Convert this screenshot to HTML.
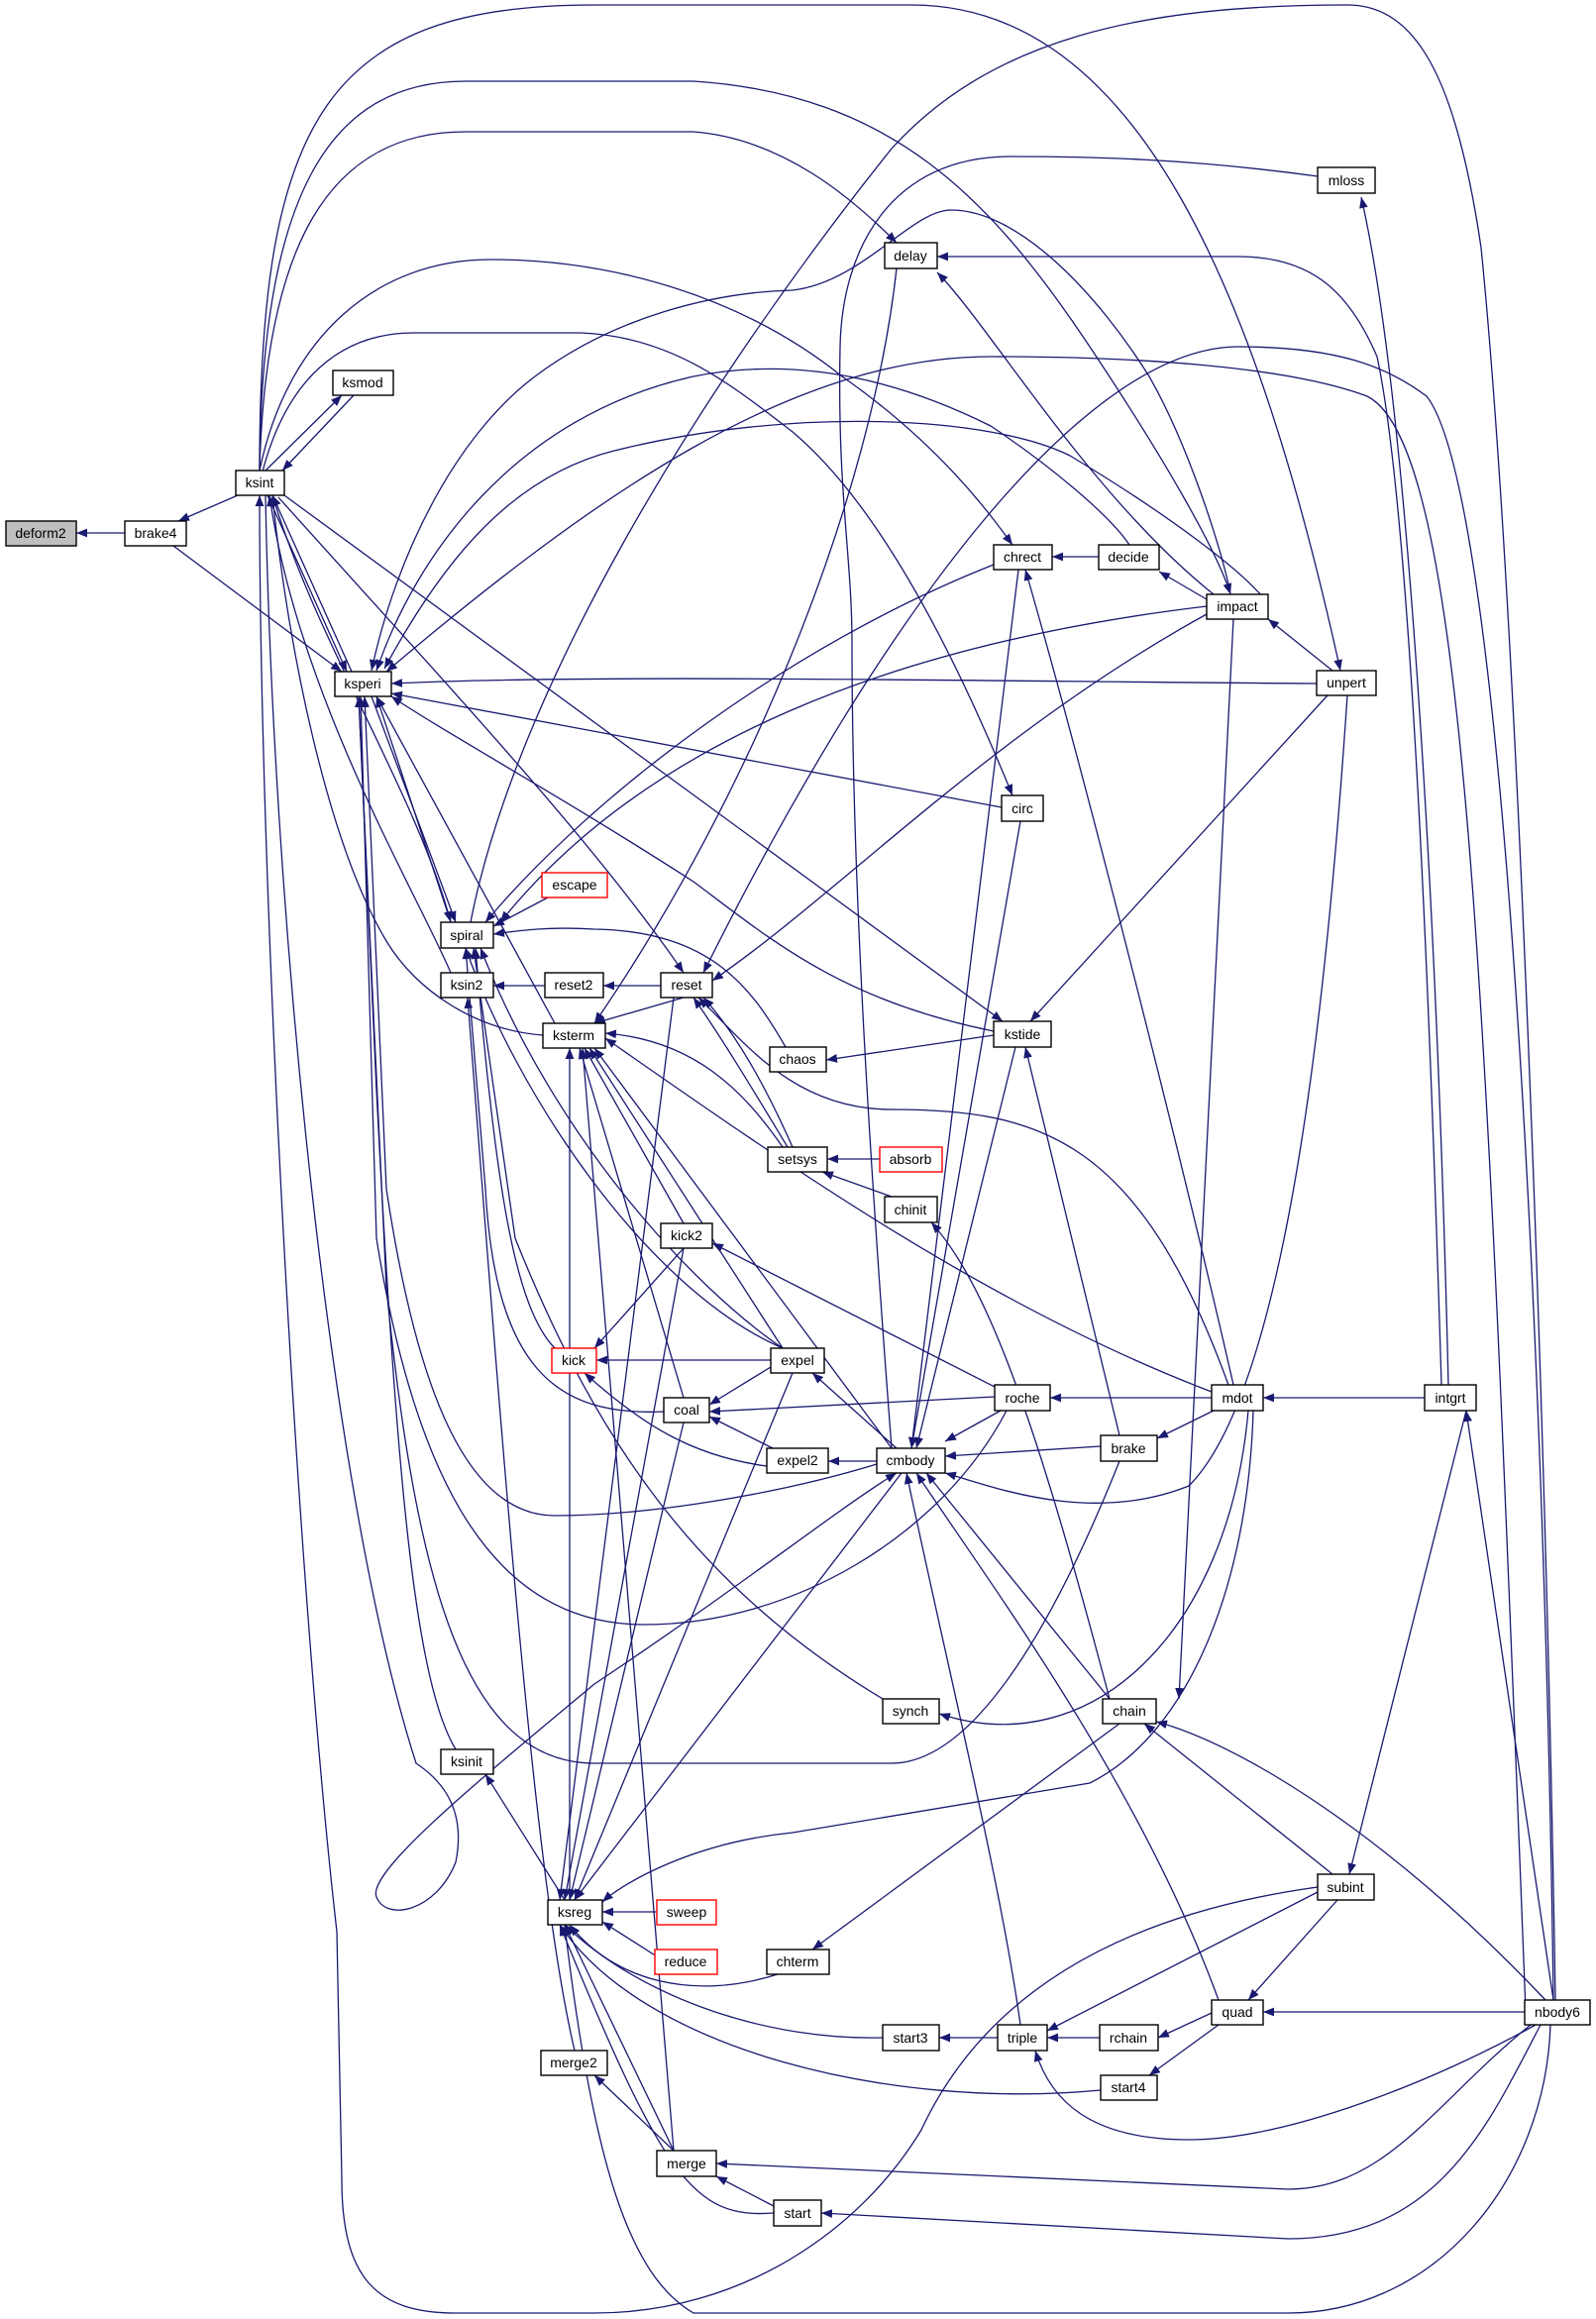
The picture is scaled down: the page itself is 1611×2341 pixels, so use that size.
<!DOCTYPE html>
<html><head><meta charset="utf-8">
<style>
html,body{margin:0;padding:0;background:#fff;}
svg{display:block;}
text{font-family:"Liberation Sans",sans-serif;font-size:14px;fill:#000;text-anchor:middle;dominant-baseline:central;}
.e path{fill:none;stroke:#191970;stroke-width:1.3;}
.e path.a{marker-end:url(#ah);}
.e path.s{marker-start:url(#ah);}
rect{fill:#fff;stroke:#000;stroke-width:1.4;}
rect.r{stroke:#ff0000;}
rect.g{fill:#bfbfbf;}
</style></head><body>
<svg width="1611" height="2341" viewBox="0 0 1611 2341" xmlns="http://www.w3.org/2000/svg">
<defs><marker id="ah" viewBox="0 0 10 8" refX="10" refY="4" markerWidth="11" markerHeight="9" orient="auto-start-reverse" markerUnits="userSpaceOnUse"><path d="M0,0 L10,4 L0,8z" fill="#191970"/></marker></defs>
<g class="e">
<path class="a" d="M126,538 L77,538"/>
<path class="a" d="M240,500 L180,526"/>
<path class="a" d="M175,551 L345,678"/>
<path class="a" d="M268,475 L345,399"/>
<path class="a" d="M357,399 L285,475"/>
<path class="a" d="M262,475 C262,120 330,5 600,5 L920,5 C1150,5 1270,300 1353,677"/>
<path d="M475,931 C520,700 700,400 900,150 C1000,40 1150,5 1360,5 C1430,5 1470,80 1495,250 C1530,600 1560,1400 1570,2019"/>
<path class="a" d="M262,475 C264,200 330,82 470,82 L700,82 C900,95 1000,200 1100,350 C1180,470 1230,560 1242,600"/>
<path class="a" d="M262,475 C268,250 330,133 470,133 L700,133 C790,140 860,200 905,245"/>
<path class="a" d="M262,475 C290,340 380,262 495,262 C620,262 750,300 850,380 C950,450 1000,520 1022,550"/>
<path class="a" d="M265,476 C285,400 330,336 418,336 L587,336 C680,340 740,390 800,436 C900,520 980,700 1022,803"/>
<path class="a" d="M287,500 L1012,1031"/>
<path class="a" d="M281,502 C450,690 600,850 690,982"/>
<path class="a" d="M270,500 L350,678"/>
<path class="a" d="M355,678 L275,500"/>
<path class="s" d="M262,500 C262,900 300,1600 340,1950 L345,2200 C345,2300 380,2335 460,2335 L600,2335 C750,2335 870,2250 930,2150 C1000,2000 1150,1930 1330,1905"/>
<path class="a" d="M268,500 C275,900 330,1500 420,1780 C450,1800 470,1830 460,1880 C440,1930 390,1940 380,1915 C370,1890 480,1800 600,1700 C750,1600 850,1520 905,1487"/>
<path class="a" d="M275,500 C320,650 420,800 455,931"/>
<path class="a" d="M455,982 C420,900 300,700 272,500"/>
<path class="a" d="M548,1045 C480,1040 420,1000 390,950 C330,850 290,650 275,500"/>
<path class="a" d="M1329,690 C1000,688 600,680 395,690"/>
<path class="a" d="M1011,815 L395,700"/>
<path class="a" d="M1003,1041 C850,1010 780,950 700,890 C560,800 450,740 395,703"/>
<path class="s" d="M375,677 C400,560 460,440 540,380 C620,320 720,295 800,293 C870,285 920,212 960,212 C1030,212 1110,300 1160,380 C1200,450 1235,560 1242,600"/>
<path class="s" d="M380,677 C420,560 520,420 700,380 C800,360 900,380 1000,430 C1060,470 1120,520 1140,550"/>
<path class="s" d="M388,675 C450,560 520,480 620,455 C800,410 1000,420 1080,460 C1180,520 1260,580 1280,610"/>
<path class="a" d="M553,906 L498,935"/>
<path class="a" d="M793,1057 C760,1000 720,940 600,938 C550,935 520,940 498,943"/>
<path class="a" d="M1218,612 C900,650 650,750 505,931"/>
<path class="a" d="M1003,570 C800,650 600,800 490,931"/>
<path class="a" d="M905,271 C880,500 760,800 600,1033"/>
<path class="a" d="M455,931 L380,703"/>
<path class="a" d="M375,703 L460,931"/>
<path class="s" d="M470,957 C520,1100 650,1300 790,1361"/>
<path class="a" d="M790,1361 C700,1300 560,1150 485,957"/>
<path class="a" d="M560,1361 C520,1320 500,1200 480,957"/>
<path class="a" d="M670,1425 C560,1430 500,1380 490,1200 L470,957"/>
<path class="a" d="M891,1715 C700,1600 600,1450 520,1250 L478,957"/>
<path class="a" d="M885,1478 C780,1510 650,1530 560,1530 C470,1530 420,1400 390,1200 L368,703"/>
<path class="a" d="M1016,1424 C950,1550 800,1640 650,1640 C500,1640 420,1500 380,1250 L364,703"/>
<path class="a" d="M1130,1475 C1060,1650 980,1780 900,1780 L600,1780 C470,1780 420,1600 390,1300 L362,703"/>
<path class="a" d="M460,1766 C420,1700 400,1500 380,1100 L362,703"/>
<path class="a" d="M560,1033 L380,703"/>
<path class="a" d="M690,1007 L600,1033"/>
<path class="a" d="M690,1235 L590,1058"/>
<path class="a" d="M790,1361 L595,1058"/>
<path class="a" d="M690,1411 L585,1058"/>
<path class="a" d="M900,1462 L600,1058"/>
<path class="a" d="M1223,1405 C1000,1320 800,1180 611,1048"/>
<path class="a" d="M790,1158 C750,1100 700,1050 611,1043"/>
<path class="a" d="M575,1918 L575,1058"/>
<path class="a" d="M680,2171 L588,1058"/>
<path class="a" d="M667,995 L609,995"/>
<path class="a" d="M550,995 L498,995"/>
<path class="a" d="M1218,620 C1000,740 850,900 719,990"/>
<path class="a" d="M795,1158 C760,1100 730,1050 700,1007"/>
<path class="a" d="M800,1158 C770,1090 740,1040 710,1007"/>
<path class="a" d="M1240,1398 C1150,1150 1050,1120 900,1120 C800,1120 750,1050 705,1007"/>
<path class="a" d="M680,1007 L565,1918"/>
<path class="a" d="M1568,2019 C1560,1400 1520,500 1440,400 C1400,370 1350,350 1250,350 C1100,350 900,600 710,982"/>
<path class="a" d="M1003,1045 L834,1070"/>
<path class="a" d="M1340,702 L1040,1031"/>
<path class="a" d="M1130,1449 L1035,1057"/>
<path class="a" d="M1025,1057 L925,1462"/>
<path class="a" d="M1109,562 L1062,562"/>
<path class="a" d="M1218,605 L1170,577"/>
<path class="a" d="M1245,1398 C1200,1200 1100,800 1035,575"/>
<path class="a" d="M1028,575 L920,1462"/>
<path class="a" d="M1345,677 L1280,625"/>
<path class="a" d="M1245,625 L1190,1715"/>
<path class="a" d="M1455,1398 C1440,900 1420,500 1390,360 C1360,290 1320,259 1250,259 L946,259"/>
<path class="a" d="M1462,1398 C1450,900 1420,400 1374,199"/>
<path class="a" d="M1225,600 C1100,500 1000,330 946,275"/>
<path d="M1330,178 C1200,160 1100,158 1020,158 C900,158 850,250 848,350 C845,500 860,560 860,650 C860,900 880,1200 900,1462"/>
<path class="a" d="M1539,2031 L1275,2031"/>
<path class="a" d="M1560,2019 C1400,1850 1250,1760 1167,1738"/>
<path class="a" d="M1550,2044 C1450,2100 1300,2160 1200,2160 C1100,2160 1060,2120 1045,2070"/>
<path class="a" d="M1545,2044 C1450,2120 1400,2210 1300,2210 L723,2184"/>
<path class="a" d="M1555,2044 C1500,2150 1450,2260 1300,2260 L829,2234"/>
<path class="a" d="M1565,2044 C1560,2200 1450,2335 1300,2335 L700,2335 C640,2300 600,2200 570,1943"/>
<path class="a" d="M1568,2019 L1480,1424"/>
<path class="a" d="M1480,1424 L1362,1892"/>
<path class="a" d="M1345,1892 L1155,1740"/>
<path class="a" d="M1350,1918 L1260,2019"/>
<path class="a" d="M1330,1910 L1057,2050"/>
<path class="a" d="M1223,2032 L1169,2057"/>
<path class="a" d="M1110,2057 L1057,2057"/>
<path class="a" d="M1230,2044 L1160,2095"/>
<path class="a" d="M1007,2057 L948,2057"/>
<path class="a" d="M891,2057 C780,2060 650,2020 570,1943"/>
<path class="a" d="M1111,2110 C900,2130 650,2070 565,1943"/>
<path class="a" d="M785,1993 C700,2020 620,2000 575,1943"/>
<path class="a" d="M663,1975 L608,1940"/>
<path class="a" d="M663,1930 L608,1930"/>
<path class="a" d="M680,2171 L570,1943"/>
<path class="a" d="M781,2234 C700,2240 670,2200 565,1943"/>
<path class="a" d="M680,2171 L600,2095"/>
<path class="a" d="M781,2227 L723,2197"/>
<path class="a" d="M580,2070 C540,1900 510,1500 472,1007"/>
<path class="a" d="M570,1918 L490,1791"/>
<path class="a" d="M1265,1424 C1260,1600 1200,1750 1100,1800 L800,1850 C700,1860 630,1900 608,1920"/>
<path class="a" d="M1130,1740 L820,1968"/>
<path class="a" d="M1030,2044 C1010,1900 960,1700 915,1487"/>
<path class="a" d="M1230,2019 C1150,1800 1000,1600 925,1487"/>
<path class="a" d="M1120,1715 L935,1487"/>
<path class="a" d="M910,1487 L580,1918"/>
<path class="a" d="M905,1462 L820,1386"/>
<path class="a" d="M885,1475 L836,1475"/>
<path class="a" d="M780,1462 L716,1430"/>
<path class="a" d="M774,1480 C700,1470 650,1440 590,1386"/>
<path class="a" d="M778,1373 L602,1373"/>
<path class="a" d="M778,1380 L716,1418"/>
<path class="a" d="M1004,1410 L716,1425"/>
<path class="a" d="M1223,1411 L1060,1411"/>
<path class="a" d="M1438,1411 L1275,1411"/>
<path class="a" d="M1225,1424 L1168,1452"/>
<path class="a" d="M1111,1460 L954,1470"/>
<path class="a" d="M1010,1424 L954,1455"/>
<path class="a" d="M1360,702 C1340,1000 1300,1400 1200,1500 C1100,1540 1000,1500 954,1487"/>
<path class="a" d="M1004,1400 L719,1255"/>
<path class="a" d="M690,1260 L600,1361"/>
<path class="a" d="M900,1208 L830,1183"/>
<path class="a" d="M888,1170 L835,1170"/>
<path class="a" d="M1120,1715 C1050,1450 1000,1300 940,1234"/>
<path class="a" d="M690,1436 L575,1918"/>
<path class="a" d="M800,1386 L580,1918"/>
<path class="a" d="M690,1260 L570,1918"/>
<path class="a" d="M1260,1424 C1240,1650 1100,1780 948,1730"/>
<path class="a" d="M1030,829 L920,1462"/>
<path class="a" d="M1540,2030 C1500,1000 1480,450 1380,400 C1300,370 1150,360 1000,360 C800,360 600,500 390,678"/>
</g>
<g>
<rect class="g" x="6" y="526" width="71" height="25"/><text x="41" y="538">deform2</text>
<rect x="126" y="526" width="62" height="25"/><text x="157" y="538">brake4</text>
<rect x="238" y="475" width="49" height="25"/><text x="262" y="487">ksint</text>
<rect x="336" y="374" width="61" height="25"/><text x="366" y="386">ksmod</text>
<rect x="338" y="678" width="57" height="25"/><text x="366" y="690">ksperi</text>
<rect x="893" y="245" width="53" height="26"/><text x="919" y="258">delay</text>
<rect x="1330" y="169" width="58" height="26"/><text x="1359" y="182">mloss</text>
<rect x="1003" y="550" width="59" height="25"/><text x="1032" y="562">chrect</text>
<rect x="1109" y="550" width="61" height="25"/><text x="1139" y="562">decide</text>
<rect x="1218" y="600" width="62" height="25"/><text x="1249" y="612">impact</text>
<rect x="1329" y="677" width="60" height="25"/><text x="1359" y="689">unpert</text>
<rect x="1011" y="803" width="42" height="26"/><text x="1032" y="816">circ</text>
<rect class="r" x="547" y="881" width="66" height="25"/><text x="580" y="893">escape</text>
<rect x="445" y="931" width="53" height="26"/><text x="471" y="944">spiral</text>
<rect x="445" y="982" width="53" height="25"/><text x="471" y="994">ksin2</text>
<rect x="550" y="982" width="59" height="25"/><text x="579" y="994">reset2</text>
<rect x="667" y="982" width="52" height="25"/><text x="693" y="994">reset</text>
<rect x="548" y="1033" width="63" height="25"/><text x="579" y="1045">ksterm</text>
<rect x="1003" y="1031" width="58" height="26"/><text x="1032" y="1044">kstide</text>
<rect x="777" y="1057" width="57" height="25"/><text x="805" y="1069">chaos</text>
<rect x="775" y="1158" width="60" height="25"/><text x="805" y="1170">setsys</text>
<rect class="r" x="888" y="1158" width="63" height="25"/><text x="919" y="1170">absorb</text>
<rect x="893" y="1208" width="53" height="26"/><text x="919" y="1221">chinit</text>
<rect x="667" y="1235" width="52" height="25"/><text x="693" y="1247">kick2</text>
<rect class="r" x="557" y="1361" width="45" height="25"/><text x="579" y="1373">kick</text>
<rect x="778" y="1361" width="54" height="25"/><text x="805" y="1373">expel</text>
<rect x="670" y="1411" width="46" height="25"/><text x="693" y="1423">coal</text>
<rect x="1004" y="1398" width="56" height="26"/><text x="1032" y="1411">roche</text>
<rect x="1223" y="1398" width="52" height="26"/><text x="1249" y="1411">mdot</text>
<rect x="1438" y="1398" width="52" height="26"/><text x="1464" y="1411">intgrt</text>
<rect x="1111" y="1449" width="57" height="26"/><text x="1139" y="1462">brake</text>
<rect x="774" y="1462" width="62" height="25"/><text x="805" y="1474">expel2</text>
<rect x="885" y="1462" width="69" height="25"/><text x="919" y="1474">cmbody</text>
<rect x="891" y="1715" width="57" height="25"/><text x="919" y="1727">synch</text>
<rect x="1113" y="1715" width="54" height="25"/><text x="1140" y="1727">chain</text>
<rect x="445" y="1766" width="53" height="25"/><text x="471" y="1778">ksinit</text>
<rect x="1330" y="1892" width="57" height="26"/><text x="1358" y="1905">subint</text>
<rect x="553" y="1918" width="55" height="25"/><text x="580" y="1930">ksreg</text>
<rect class="r" x="663" y="1918" width="60" height="25"/><text x="693" y="1930">sweep</text>
<rect class="r" x="661" y="1968" width="63" height="25"/><text x="692" y="1980">reduce</text>
<rect x="774" y="1968" width="63" height="25"/><text x="805" y="1980">chterm</text>
<rect x="1223" y="2019" width="52" height="25"/><text x="1249" y="2031">quad</text>
<rect x="1539" y="2019" width="66" height="25"/><text x="1572" y="2031">nbody6</text>
<rect x="891" y="2044" width="57" height="26"/><text x="919" y="2057">start3</text>
<rect x="1007" y="2044" width="50" height="26"/><text x="1032" y="2057">triple</text>
<rect x="1110" y="2044" width="59" height="26"/><text x="1139" y="2057">rchain</text>
<rect x="546" y="2070" width="67" height="25"/><text x="579" y="2082">merge2</text>
<rect x="1111" y="2095" width="57" height="25"/><text x="1139" y="2107">start4</text>
<rect x="663" y="2171" width="60" height="26"/><text x="693" y="2184">merge</text>
<rect x="781" y="2221" width="48" height="26"/><text x="805" y="2234">start</text>
</g>
</svg>
</body></html>
